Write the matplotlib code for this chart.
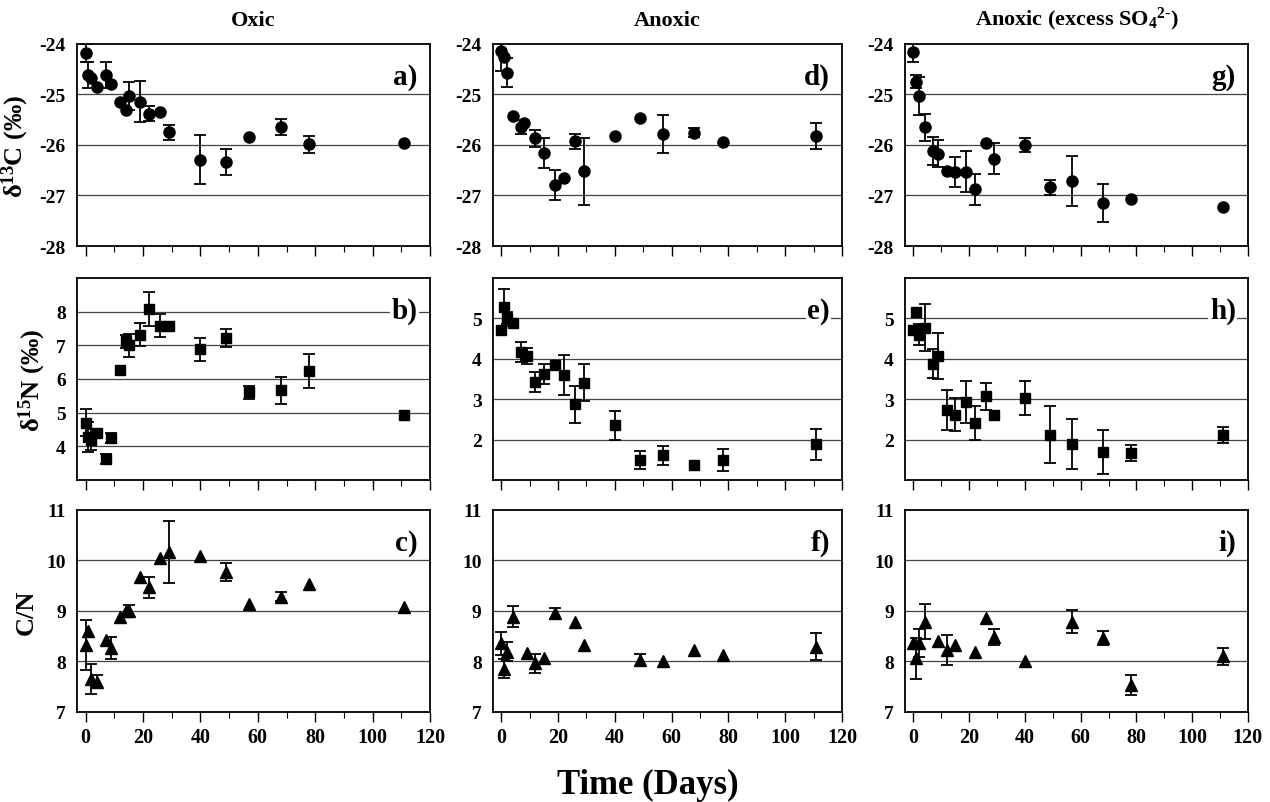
import matplotlib.pyplot as plt
import numpy as np

plt.rcParams['font.family'] = ['Liberation Serif', 'DejaVu Serif']
plt.rcParams['font.weight'] = 'bold'
plt.rcParams['mathtext.fontset'] = 'custom'
plt.rcParams['mathtext.rm'] = 'Liberation Serif:bold'
plt.rcParams['mathtext.it'] = 'Liberation Serif:bold'
plt.rcParams['mathtext.bf'] = 'Liberation Serif:bold'

# ---- data (days, value, error; error 0 = no bar) ----
a_day = [0, 1, 2, 4, 7, 9, 12, 14, 15, 19, 22, 26, 29, 40, 49, 57, 68, 78, 111]
a_val = [-24.18, -24.62, -24.68, -24.86, -24.62, -24.79, -25.14, -25.31, -25.03, -25.14,
         -25.38, -25.35, -25.75, -26.29, -26.34, -25.85, -25.65, -25.99, -25.97]
a_err = [0.18, 0.26, 0, 0, 0.26, 0, 0, 0, 0.27, 0.41, 0.15, 0, 0.15, 0.48, 0.26, 0, 0.16, 0.16, 0]

d_day = [0, 1, 2, 4, 7, 8, 12, 15, 19, 22, 26, 29, 40, 49, 57, 68, 78, 111]
d_val = [-24.14, -24.26, -24.57, -25.43, -25.65, -25.57, -25.87, -26.16, -26.79, -26.66,
         -25.93, -26.52, -25.82, -25.46, -25.78, -25.76, -25.95, -25.82]
d_err = [0.4, 0, 0.29, 0, 0.14, 0, 0.16, 0.3, 0.29, 0, 0.15, 0.66, 0, 0, 0.38, 0.09, 0, 0.26]

g_day = [0, 1, 2, 4, 7, 9, 12, 15, 19, 22, 26, 29, 40, 49, 57, 68, 78, 111]
g_val = [-24.16, -24.75, -25.03, -25.65, -26.12, -26.17, -26.51, -26.53, -26.53, -26.88,
         -25.97, -26.27, -26.0, -26.84, -26.71, -27.15, -27.07, -27.23]
g_err = [0.19, 0.13, 0.38, 0.27, 0.27, 0.27, 0, 0.3, 0.41, 0.3, 0, 0.31, 0.14, 0.15, 0.5, 0.38, 0, 0]

b_day = [0, 1, 2, 4, 7, 9, 12, 14, 15, 19, 22, 26, 29, 40, 49, 57, 68, 78, 111]
b_val = [4.70, 4.27, 4.20, 4.40, 3.62, 4.25, 6.26, 7.12, 7.00, 7.32, 8.07, 7.58, 7.58,
         6.88, 7.22, 5.61, 5.66, 6.23, 4.92]
b_err = [0.4, 0.45, 0.3, 0, 0.15, 0.15, 0, 0.2, 0.35, 0.33, 0.5, 0.34, 0, 0.35, 0.27, 0.19, 0.41, 0.5, 0]

e_day = [0, 1, 2, 4, 7, 9, 12, 15, 19, 22, 26, 29, 40, 49, 57, 68, 78, 111]
e_val = [4.71, 5.27, 5.00, 4.88, 4.17, 4.07, 3.43, 3.62, 3.84, 3.60, 2.87, 3.41, 2.35,
         1.49, 1.61, 1.36, 1.50, 1.88]
e_err = [0, 0.45, 0.15, 0, 0.25, 0.2, 0.25, 0.25, 0, 0.5, 0.45, 0.46, 0.35, 0.22, 0.23, 0, 0.27, 0.38]

h_day = [0, 1, 2, 4, 7, 9, 12, 15, 19, 22, 26, 29, 40, 49, 57, 68, 78, 111]
h_val = [4.70, 5.16, 4.60, 4.77, 3.88, 4.07, 2.73, 2.62, 2.93, 2.40, 3.07, 2.62, 3.03,
         2.12, 1.88, 1.69, 1.66, 2.12]
h_err = [0, 0, 0.25, 0.58, 0.35, 0.58, 0.5, 0.4, 0.52, 0.42, 0.33, 0, 0.43, 0.7, 0.62, 0.55, 0.2, 0.2]

c_day = [0, 1, 2, 4, 7, 9, 12, 14, 15, 19, 22, 26, 29, 40, 49, 57, 68, 78, 111]
c_val = [8.33, 8.61, 7.65, 7.60, 8.43, 8.27, 8.88, 8.99, 9.00, 9.67, 9.47, 10.05, 10.17,
         10.08, 9.77, 9.13, 9.28, 9.53, 9.08]
c_err = [0.5, 0, 0.3, 0.13, 0, 0.22, 0, 0, 0.12, 0, 0.21, 0, 0.62, 0, 0.18, 0, 0.09, 0, 0]

f_day = [0, 1, 2, 4, 9, 12, 15, 19, 26, 29, 49, 57, 68, 78, 111]
f_val = [8.36, 7.86, 8.19, 8.89, 8.16, 7.96, 8.06, 8.95, 8.79, 8.32, 8.03, 8.00, 8.23, 8.13, 8.29]
f_err = [0.23, 0.18, 0.19, 0.2, 0, 0.19, 0, 0.11, 0, 0, 0.12, 0, 0, 0, 0.27]

i_day = [0, 1, 2, 4, 9, 12, 15, 22, 26, 29, 40, 57, 68, 78, 111]
i_val = [8.37, 8.06, 8.37, 8.79, 8.40, 8.23, 8.33, 8.18, 8.87, 8.49, 8.00, 8.79, 8.46, 7.54, 8.10]
i_err = [0, 0.4, 0.28, 0.35, 0, 0.3, 0, 0, 0, 0.16, 0, 0.22, 0.14, 0.2, 0.17]

col_titles = ['Oxic', 'Anoxic', 'Anoxic (excess SO$_{4}$$^{2\\text{-}}$)']
row_labels = ['δ$^{13}$C (‰)', 'δ$^{15}$N (‰)', 'C/N']

panels = [
    [(a_day, a_val, a_err, 'a)'), (d_day, d_val, d_err, 'd)'), (g_day, g_val, g_err, 'g)')],
    [(b_day, b_val, b_err, 'b)'), (e_day, e_val, e_err, 'e)'), (h_day, h_val, h_err, 'h)')],
    [(c_day, c_val, c_err, 'c)'), (f_day, f_val, f_err, 'f)'), (i_day, i_val, i_err, 'i)')],
]
markers = ['o', 's', '^']
msizes = [8, 7.5, 8.5]

row_ylim = [(-28, -24), None, (7, 11)]
row_ticks = [[-28, -27, -26, -25, -24], None, [7, 8, 9, 10, 11]]

col_left = [0.0606, 0.388, 0.7126]
col_w = [0.278, 0.275, 0.270]
row_bottom = [0.6924, 0.401, 0.1121]
row_h = 0.2516

fig = plt.figure(figsize=(12.7, 8.03), dpi=100)

for r in range(3):
    for c in range(3):
        day, val, err, lab = panels[r][c]
        day = np.array(day, float)
        val = np.array(val, float)
        err = np.array(err, float)
        ax = fig.add_axes([col_left[c], row_bottom[r], col_w[c], row_h])

        if r == 1:
            if c == 0:
                ylim, ticks = (3, 9), [4, 5, 6, 7, 8]
            else:
                ylim, ticks = (1, 6), [2, 3, 4, 5]
        else:
            ylim, ticks = row_ylim[r], row_ticks[r]

        for t in ticks:
            if ylim[0] < t < ylim[1]:
                ax.axhline(t, color='#444444', lw=0.9, zorder=1)

        m = err > 0
        ax.errorbar(day[m], val[m], yerr=err[m], fmt='none', ecolor='black',
                    elinewidth=1.3, capsize=4, capthick=1.3, zorder=2)
        ax.plot(day, val, linestyle='none', marker=markers[r], ms=msizes[r],
                color='black', zorder=3)

        ax.set_xlim(-3, 120)
        ax.set_ylim(*ylim)
        ax.set_yticks(ticks)
        ax.set_yticklabels([str(t) for t in ticks])
        ax.set_xticks(np.arange(0, 121, 20))
        ax.set_xticks(np.arange(10, 120, 20), minor=True)
        ax.tick_params(axis='y', length=0, pad=8, labelsize=14)
        ax.tick_params(axis='x', which='major', length=7, width=1, direction='out',
                       labelsize=14.5, pad=4)
        ax.tick_params(axis='x', which='minor', length=4, width=0.8, direction='out')
        if r < 2:
            ax.tick_params(axis='x', labelbottom=False)
        for sp in ax.spines.values():
            sp.set_linewidth(1.3)

        ax.text(0.965, 0.84, lab, transform=ax.transAxes, ha='right', va='center',
                fontsize=21, fontweight='bold', zorder=4,
                bbox=dict(facecolor='white', edgecolor='none', pad=1))

        if r == 0:
            ax.set_title(col_titles[c], fontsize=16, fontweight='bold', pad=14)
        if c == 0:
            ax.set_ylabel(row_labels[r], fontsize=19, fontweight='bold', labelpad=6)

fig.text(0.51, 0.022, 'Time (Days)', ha='center', va='center', fontsize=25,
         fontweight='bold')

fig.savefig('out.png', dpi=100)
